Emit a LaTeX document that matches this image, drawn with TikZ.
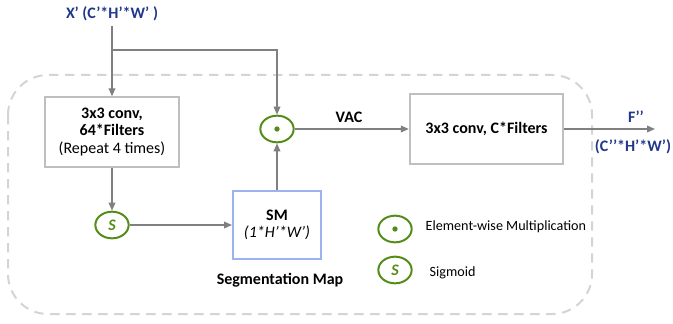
\documentclass[tikz,border=0pt]{standalone}
\usepackage{fontspec}
\setmainfont{Carlito}
\usetikzlibrary{arrows.meta,shapes.geometric}

\definecolor{dkblue}{RGB}{32,56,140}
\definecolor{opgreen}{RGB}{84,140,24}
\definecolor{boxgray}{RGB}{191,191,191}
\definecolor{linegray}{RGB}{128,128,128}
\definecolor{dashgray}{RGB}{212,212,212}
\definecolor{smblue}{RGB}{155,180,240}

\tikzset{
	convbox/.style={draw=boxgray, line width=1.5pt, align=center, minimum height=52pt,
		font=\fontsize{12}{13}\selectfont\bfseries},
	smbox/.style={draw=smblue, line width=1.5pt, align=center, minimum width=66pt, minimum height=51pt,
		font=\fontsize{12}{13}\selectfont\bfseries},
	opnode/.style={ellipse, draw=opgreen, line width=1.5pt, minimum width=25pt, minimum height=20pt,
		inner sep=0pt, text=opgreen, font=\fontsize{12}{13}\selectfont\bfseries\itshape},
	lbl/.style={font=\fontsize{12}{13}\selectfont\bfseries},
	dimlbl/.style={font=\fontsize{12}{13}\selectfont\bfseries, text=dkblue},
	legtxt/.style={anchor=west, font=\fontsize{10.6}{12}\selectfont},
	flow/.style={draw=linegray, line width=1pt, -{Triangle[length=6pt,width=5pt]}},
}

\begin{document}
\begin{tikzpicture}[x=0.75pt, y=-0.75pt]

		\useasboundingbox (0,0) rectangle (673,324);

		% Module frame
		\draw[dashgray, line width=1.5pt, dash pattern=on 7pt off 5pt, rounded corners=30pt]
			(8,75) rectangle (592,314);

		% Input
		\node[dimlbl] (xin) at (112,14) {X’ (C’*H’*W’ )};
		\coordinate (br) at (112,50);

		% Main branch
		\node[convbox, minimum width=100pt] (conv1) at (112,132)
			{3x3 conv,\\64*Filters\\{\mdseries (Repeat 4 times)}};
		\node[opnode] (sig) at (112,225) {S};
		\node[smbox] (sm) at (277,225) {SM\\{\mdseries\itshape (1*H’*W’)}};
		\node[lbl] (segl) at (280,280) {Segmentation Map};

		% Multiplication and output
		\node[opnode] (mul) at (277,129) {};
		\fill[opgreen] (mul.center) circle (2pt);
		\node[lbl] (vac) at (349,117) {VAC};
		\node[convbox, minimum width=115pt] (conv2) at (486.5,129) {3x3 conv, C*Filters};
		\coordinate (out) at (655,129);
		\node[dimlbl] (fout) at (636,117) {F’’};
		\node[dimlbl] (fdim) at (633,147) {(C’’*H’*W’)};

		% Connectors
		\draw[flow] (xin) -- (conv1);
		\draw[flow] (br) -| (mul);
		\draw[flow] (conv1) -- (sig);
		\draw[flow] (sig) -- (sm);
		\draw[flow] (sm) -- (mul);
		\draw[flow] (mul) -- (conv2);
		\draw[flow] (conv2) -- (out);

		% Legend
		\node[opnode] (lgmul) at (395,229) {};
		\fill[opgreen] (lgmul.center) circle (2pt);
		\node[legtxt] (lgmultxt) at (421,227) {Element-wise Multiplication};
		\node[opnode] (lgsig) at (395,270) {S};
		\node[legtxt] (lgsigtxt) at (425,273) {Sigmoid};

	\end{tikzpicture}
\end{document}
